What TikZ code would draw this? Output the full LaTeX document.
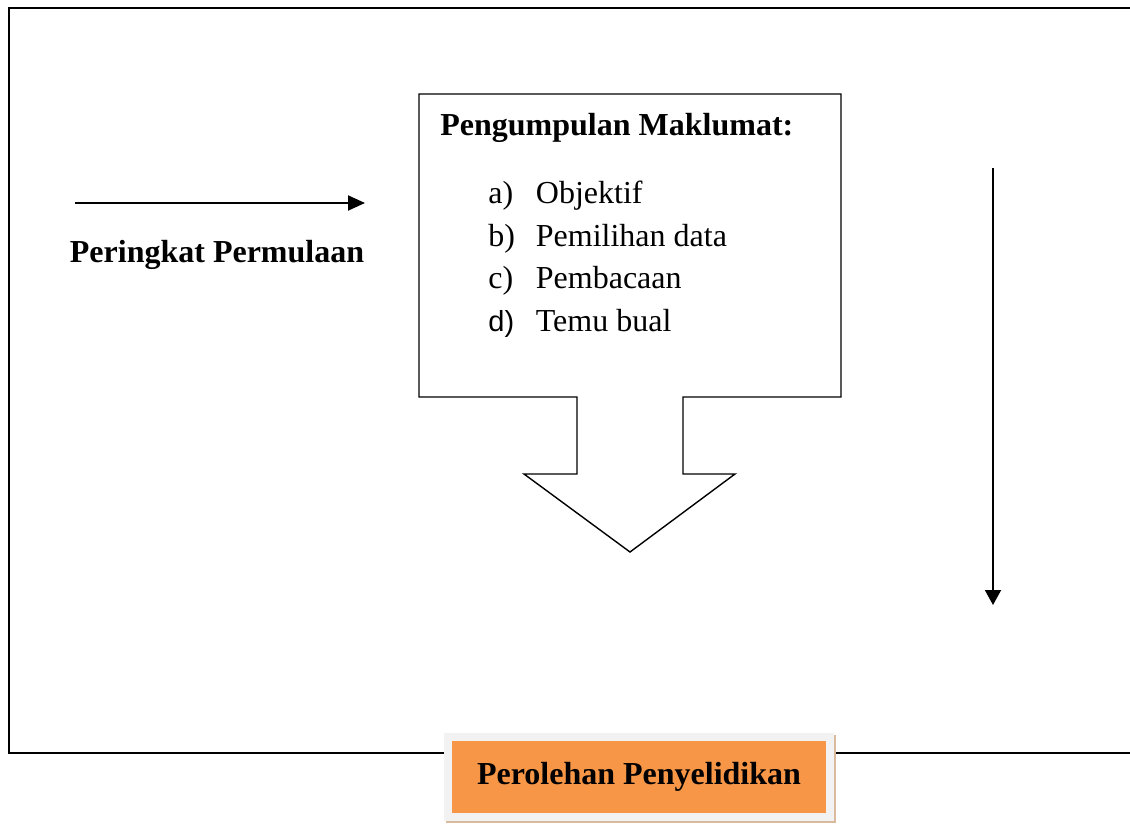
\documentclass[tikz,border=0pt]{standalone}
\usepackage{fontspec}
\setmainfont{Liberation Serif}
\newfontfamily\arialfont{Liberation Sans}
\usetikzlibrary{arrows.meta}
\definecolor{resultorange}{HTML}{F79646}
\definecolor{resultframe}{HTML}{F2F2F2}
\definecolor{resultshadow}{HTML}{D9BA9C}

\begin{document}
\begin{tikzpicture}[x=0.5pt,y=-0.5pt,every node/.style={font=\fontsize{16pt}{20pt}\selectfont,inner sep=0pt},
        flowarrow/.style={line width=1pt,-{Triangle[length=8.5pt,width=7.5pt]}},
        itemtext/.style={anchor=base west},
        resultbox/.style={fill=resultorange,draw=resultframe,line width=4pt,minimum width=191pt,minimum height=40pt,
            font=\fontsize{16pt}{20pt}\selectfont\bfseries,
            preaction={draw=resultshadow,line width=4pt,transform canvas={shift={(1pt,-1pt)}}}}]
        \useasboundingbox (0,0) rectangle (1130,824);
        % outer frame, open on the right
        \draw[line width=1pt] (1130,8) -- (9,8) -- (9,753) -- (1130,753);
        % left arrow and label
        \coordinate (startA) at (75,203);
        \coordinate (startB) at (365,203);
        \draw[flowarrow] (startA) -- (startB);
        \node[anchor=base,font=\fontsize{16pt}{20pt}\selectfont\bfseries] (stage) at (217,262) {Peringkat Permulaan};
        % callout box with down arrow
        \draw[line width=0.7pt,line join=miter] (419,94) -- (841,94) -- (841,397) -- (683,397) -- (683,474) -- (735,474)
            -- (630,552) -- (524,474) -- (577,474) -- (577,397) -- (419,397) -- cycle;
        \node[itemtext,font=\fontsize{16pt}{20pt}\selectfont\bfseries] (title) at (440,135) {Pengumpulan Maklumat:};
        \node[itemtext] (la) at (488,204) {a)};
        \node[itemtext] (lb) at (488,246) {b)};
        \node[itemtext] (lc) at (488,288) {c)};
        \node[itemtext,font=\arialfont\fontsize{14.5pt}{18pt}\selectfont] (ld) at (488,331) {d)};
        \node[itemtext] (ia) at (535.5,204) {Objektif};
        \node[itemtext] (ib) at (535.5,246) {Pemilihan data};
        \node[itemtext] (ic) at (535.5,288) {Pembacaan};
        \node[itemtext] (id) at (535.5,331) {Temu bual};
        % right arrow
        \coordinate (flowA) at (993,168);
        \coordinate (flowB) at (993,605);
        \draw[line width=1pt,-{Triangle[length=7.5pt,width=8pt]}] (flowA) -- (flowB);
        % result
        \node[resultbox] (result) at (639,777) {Perolehan Penyelidikan};
    \end{tikzpicture}
\end{document}
